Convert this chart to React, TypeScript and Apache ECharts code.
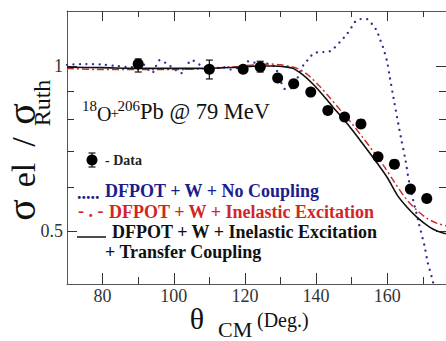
import React, { useEffect, useRef } from 'react';
import * as echarts from 'echarts';

// Experimental data (theta_CM in degrees, sigma_el / sigma_Ruth)
const dataTheta = [90, 110, 119.5, 124.3, 129.2, 133.7, 138.5, 143.3, 148, 152.6, 157.4, 162, 166.5, 171.1];
const dataSigma = [1.008, 0.986, 0.986, 0.996, 0.951, 0.928, 0.896, 0.829, 0.807, 0.784, 0.683, 0.662, 0.596, 0.573];

// Error bars
const errTheta = [90, 110, 124.3];
const errLow = [0.975, 0.947, 0.975];
const errHigh = [1.03, 1.025, 1.02];

// DFPOT + W + No Coupling (blue dotted)
const blueTheta = [70, 75, 80, 84, 88, 91, 93.9, 96.1, 99, 102.3, 105, 108, 111, 114, 116, 119, 121, 124, 126, 128.4, 130, 131.2, 133.2, 134, 135.5, 136.8, 138, 139.1, 141, 143, 144.4, 146.7, 148.5, 150, 150.9, 152.3, 154.3, 155.9, 157.1, 157.9, 158.7, 159.9, 160.7, 161.8, 163.8, 165.1, 166.3, 168.8, 170.5, 171.4, 172.5, 173.8];
const blueSigma = [1.005, 1.008, 1.006, 1.0, 0.995, 1.01, 0.972, 1.025, 1.0, 0.97, 1.025, 1.0, 0.99, 0.995, 0.985, 1.0, 1.02, 1.01, 1.01, 0.996, 0.94, 0.908, 0.912, 0.927, 0.975, 1.013, 1.03, 1.052, 1.06, 1.06, 1.069, 1.106, 1.14, 1.178, 1.203, 1.218, 1.218, 1.188, 1.158, 1.12, 1.088, 1.021, 0.955, 0.871, 0.742, 0.674, 0.606, 0.519, 0.468, 0.437, 0.412, 0.38];

// DFPOT + W + Inelastic Excitation (red dash-dot)
const redTheta = [70, 80, 90, 100, 110, 118, 123, 127, 130, 133, 135.5, 138, 141, 144, 147, 150, 153, 156, 159, 162, 165, 168, 171, 174, 176.5];
const redSigma = [0.99, 0.985, 0.985, 0.985, 0.99, 0.998, 1.005, 1.008, 1.005, 0.997, 0.985, 0.96, 0.918, 0.873, 0.828, 0.786, 0.742, 0.699, 0.657, 0.614, 0.575, 0.548, 0.528, 0.516, 0.511];

// DFPOT + W + Inelastic Excitation + Transfer Coupling (black solid)
const blackTheta = [70, 80, 90, 100, 110, 118, 124, 128, 131, 133.5, 136.3, 139.1, 141.9, 144.7, 148.6, 152.3, 155.9, 159.9, 162.9, 165.5, 168.3, 171.9, 174, 176.5];
const blackSigma = [0.995, 0.993, 0.99, 0.99, 0.99, 0.995, 1.0, 1.0, 0.997, 0.99, 0.963, 0.927, 0.885, 0.842, 0.787, 0.733, 0.682, 0.627, 0.58, 0.553, 0.53, 0.508, 0.5, 0.494];

// Axis ticks / labels
const xMajor = [80, 100, 120, 140, 160];
const xMinor = [90, 110, 130, 150, 170];
const yMajor = [0.5, 1];
const yMinor = [0.6, 0.7, 0.8, 0.9];

const SERIF = 'Liberation Serif';
const BLUE = '#1c1c8c';
const RED = '#d22626';
const AX = '#555';

const zip = (a: number[], b: number[]) => a.map((v, i) => [v, b[i]]);

export default function App() {
  const ref = useRef<HTMLDivElement>(null);
  useEffect(() => {
    const chart = echarts.init(ref.current!, null, { renderer: 'svg' });
    const baseX: any = {
      type: 'value', min: 70, max: 176.5,
      splitLine: { show: false },
      axisLine: { show: true, onZero: false, lineStyle: { color: AX, width: 1 } },
      axisLabel: { show: false },
    };
    const baseY: any = {
      type: 'log', min: 0.4, max: 1.26,
      splitLine: { show: false },
      axisLine: { show: true, onZero: false, lineStyle: { color: AX, width: 1 } },
      axisLabel: { show: false },
    };
    const tick = (len: number, vals: number[]) => ({ show: true, inside: true, length: len, customValues: vals, lineStyle: { color: '#333', width: 1 } });
    const txt = (x: number, y: number, text: string, size: number, fill = '#111', weight = 'normal', align = 'left', rotation = 0) => ({
      type: 'text', x, y, rotation, silent: true,
      style: { text, fill, fontSize: size, fontFamily: SERIF, fontWeight: weight, align, verticalAlign: 'middle' },
    });
    const option: any = {
      animation: false,
      backgroundColor: '#fff',
      grid: { left: 67, right: 0, top: 11, bottom: 57, outerBoundsMode: 'none', containLabel: false },
      xAxis: [
        { ...baseX, position: 'bottom', axisTick: tick(11, xMajor),
          axisLabel: { show: true, customValues: xMajor, fontSize: 18, fontFamily: SERIF, color: '#333', margin: 3 } },
        { ...baseX, position: 'bottom', axisLine: { show: false }, axisTick: tick(7, xMinor) },
        { ...baseX, position: 'top', axisTick: tick(10, xMajor) },
        { ...baseX, position: 'top', axisLine: { show: false }, axisTick: tick(6, xMinor) },
      ],
      yAxis: [
        { ...baseY, position: 'left', axisTick: tick(10, yMajor),
          axisLabel: { show: true, customValues: yMajor, fontSize: 18, fontFamily: SERIF, color: '#333', margin: 4, formatter: (v: number) => String(+v.toFixed(2)) } },
        { ...baseY, position: 'left', axisLine: { show: false }, axisTick: tick(7, yMinor) },
        { ...baseY, position: 'right', axisTick: tick(10, yMajor) },
        { ...baseY, position: 'right', axisLine: { show: false }, axisTick: tick(7, yMinor) },
      ],
      series: [
        { type: 'line', xAxisIndex: 0, yAxisIndex: 0, data: zip(blueTheta, blueSigma), showSymbol: false, smooth: 0.3,
          lineStyle: { color: '#2f2f93', width: 2.3, type: [0.01, 6.5], cap: 'round' }, z: 2 },
        { type: 'line', xAxisIndex: 0, yAxisIndex: 0, data: zip(redTheta, redSigma), showSymbol: false, smooth: 0.3,
          lineStyle: { color: '#c93030', width: 1.5, type: [7, 3, 2, 3] }, z: 3 },
        { type: 'line', xAxisIndex: 0, yAxisIndex: 0, data: zip(blackTheta, blackSigma), showSymbol: false, smooth: 0.3,
          lineStyle: { color: '#111', width: 1.6 }, z: 4 },
        { type: 'custom', xAxisIndex: 0, yAxisIndex: 0, z: 5,
          data: errTheta.map((t, i) => [t, errLow[i], errHigh[i]]),
          encode: { x: 0, y: [1, 2] },
          renderItem: (params: any, api: any) => {
            const x = api.value(0);
            const p1 = api.coord([x, api.value(1)]);
            const p2 = api.coord([x, api.value(2)]);
            const w = 3.5;
            const st = { stroke: '#111', lineWidth: 1.2 };
            return {
              type: 'group',
              children: [
                { type: 'line', shape: { x1: p1[0], y1: p1[1], x2: p2[0], y2: p2[1] }, style: st },
                { type: 'line', shape: { x1: p1[0] - w, y1: p1[1], x2: p1[0] + w, y2: p1[1] }, style: st },
                { type: 'line', shape: { x1: p2[0] - w, y1: p2[1], x2: p2[0] + w, y2: p2[1] }, style: st },
              ],
            };
          } },
        { type: 'scatter', xAxisIndex: 0, yAxisIndex: 0, data: zip(dataTheta, dataSigma), symbol: 'circle', symbolSize: 11,
          itemStyle: { color: '#000', opacity: 1 }, z: 6 },
      ],
      graphic: [
        // reaction annotation
        txt(82, 106, '18', 15),
        txt(97, 114, 'O', 20),
        txt(110.5, 113, '+', 15),
        txt(117.5, 106, '206', 15),
        txt(140, 111, 'Pb @ 79 MeV', 22.5),
        // data legend
        { type: 'line', shape: { x1: 92, y1: 153, x2: 92, y2: 167 }, style: { stroke: '#111', lineWidth: 1.2 } },
        { type: 'line', shape: { x1: 88.5, y1: 153, x2: 95.5, y2: 153 }, style: { stroke: '#111', lineWidth: 1.2 } },
        { type: 'line', shape: { x1: 88.5, y1: 167, x2: 95.5, y2: 167 }, style: { stroke: '#111', lineWidth: 1.2 } },
        { type: 'circle', shape: { cx: 92, cy: 160, r: 5.5 }, style: { fill: '#000' } },
        txt(105, 160, '- Data', 14, '#222', 'bold'),
        // model legend
        txt(77, 193, '.....', 18, BLUE, 'bold'),
        txt(105, 191, 'DFPOT + W + No Coupling', 18, BLUE, 'bold'),
        txt(78, 211, '- . -', 18, RED, 'bold'),
        txt(109, 211.5, 'DFPOT + W + Inelastic Excitation', 18, RED, 'bold'),
        { type: 'line', shape: { x1: 77, y1: 237, x2: 106, y2: 237 }, style: { stroke: '#111', lineWidth: 1.5 } },
        txt(112, 231.5, 'DFPOT + W + Inelastic Excitation', 18, '#111', 'bold'),
        txt(105, 251.5, '+ Transfer Coupling', 18, '#111', 'bold'),
        // x-axis title
        txt(197, 318, '\u03b8', 30, '#111', 'normal', 'center'),
        txt(218, 329, 'CM', 22, '#111'),
        txt(257, 320, '(Deg.)', 20, '#111'),
        // y-axis title (rotated)
        txt(21.5, 210, '\u03c3', 40, '#111', 'normal', 'center', Math.PI / 2),
        txt(23.5, 175, 'el', 34, '#111', 'normal', 'center', Math.PI / 2),
        txt(23, 142, '/', 34, '#111', 'normal', 'center', Math.PI / 2),
        txt(21.5, 114, '\u03c3', 40, '#111', 'normal', 'center', Math.PI / 2),
        txt(42, 103, 'Ruth', 24, '#111', 'normal', 'center', Math.PI / 2),
      ],
    };
    chart.setOption(option);
    return () => chart.dispose();
  }, []);
  return <div ref={ref} style={{ position: 'absolute', left: 0, top: 0, width: 446, height: 341, background: '#fff' }} />;
}
